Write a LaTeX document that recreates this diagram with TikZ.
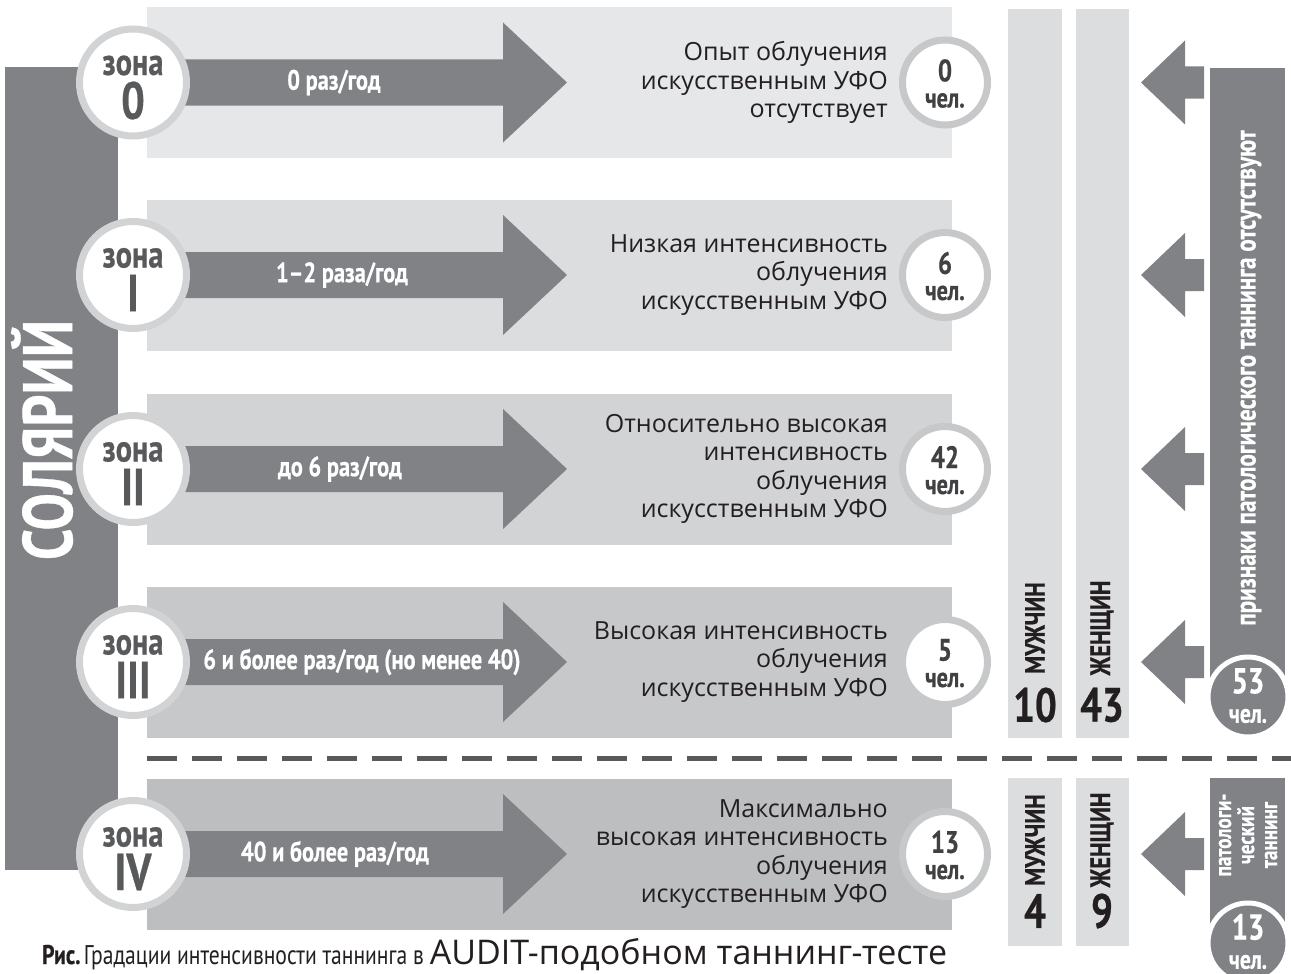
\documentclass[tikz,border=0pt]{standalone}
\usepackage{fontspec}
\setmainfont{Open Sans}
\newfontfamily\cnd[FakeStretch=0.8, BoldFeatures={FakeBold=0.5}]{PT Sans}
\definecolor{dk}{HTML}{808285}
\definecolor{pz0}{HTML}{E6E7E8}
\definecolor{pz1}{HTML}{DCDDDE}
\definecolor{pz2}{HTML}{D1D3D4}
\definecolor{pz3}{HTML}{C7C8CA}
\definecolor{pz4}{HTML}{BCBEC0}
\definecolor{ringc}{HTML}{D1D3D4}
\definecolor{ringb}{HTML}{C7C8CA}
\definecolor{zt}{HTML}{58595B}
\definecolor{ct}{HTML}{414042}
\definecolor{tx}{HTML}{231F20}
\definecolor{barc}{HTML}{DCDDDE}
\tikzset{
  zcirc/.style={circle, fill=white, draw=ringc, line width=7pt, minimum size=107pt, inner sep=0pt},
  ccirc/.style={circle, fill=white, draw=ringb, line width=7pt, minimum size=85pt, inner sep=0pt},
  dcirc/.style={circle, fill=dk, draw=white, line width=5pt, minimum size=80pt, inner sep=0pt},
  zword/.style={inner sep=0pt, text=zt, font=\cnd\bfseries\fontsize{38}{38}\selectfont},
  znum/.style={inner sep=0pt, text=zt, font=\cnd\bfseries\fontsize{52}{52}\selectfont},
  arrlbl/.style={inner sep=0pt, text=white, font=\cnd\bfseries\fontsize{28}{28}\selectfont},
  rtext/.style={inner sep=0pt, anchor=east, align=right, text=tx, font=\fontsize{25}{28.5}\selectfont},
  cnum/.style={inner sep=0pt, text=ct, font=\cnd\bfseries\fontsize{31}{31}\selectfont},
  cunit/.style={inner sep=0pt, text=ct, font=\cnd\bfseries\fontsize{28}{28}\selectfont},
  gword/.style={inner sep=0pt, rotate=90, text=tx, font=\cnd\bfseries\fontsize{28}{28}\selectfont},
  gnum/.style={inner sep=0pt, text=tx, font=\cnd\bfseries\fontsize{48}{48}\selectfont},
  wrot/.style={inner sep=0pt, rotate=90, text=white, font=\cnd\bfseries\fontsize{29}{29}\selectfont},
  wnum/.style={inner sep=0pt, text=white, font=\cnd\bfseries\fontsize{36}{36}\selectfont},
  wunit/.style={inner sep=0pt, text=white, font=\cnd\bfseries\fontsize{27}{27}\selectfont},
}
% #1 id, #2 cy, #3 panel colour, #4 numeral, #5 arrow label, #6 label x, #7 right text, #8 count
\newcommand\zonerow[8]{%
  \fill[#3] (147,#2-75.5) rectangle (952,#2+75.5);
  \fill[dk] (185,#2-23) -- (503,#2-23) -- (503,#2-60) -- (567,#2) -- (503,#2+60) -- (503,#2+23) -- (185,#2+23) -- cycle;
  \node[arrlbl] (lab#1) at (#6,#2) {#5};
  \node[zcirc] (zc#1) at (133,#2) {};
  \node[zword] (zw#1) at (133,#2-17) {зона};
  \node[znum] (zn#1) at (133,#2+18) {#4};
  \node[rtext] (rt#1) at (888,#2) {#7};
  \node[ccirc] (cc#1) at (945,#2) {};
  \node[cnum] (cn#1) at (945,#2-12) {#8};
  \node[cunit] (cu#1) at (945,#2+18) {чел.};
}
% left-pointing arrow: #1 id, #2 cy
\newcommand\leftarr[2]{%
  \fill[dk] (1204,#2-16) -- (1185,#2-16) -- (1185,#2-42) -- (1141,#2) -- (1185,#2+42) -- (1185,#2+16) -- (1204,#2+16) -- cycle;
  \coordinate (la#1) at (1141,#2);
}
\begin{document}
\begin{tikzpicture}[x=1pt,y=-1pt]
\useasboundingbox (0,0) rectangle (1291,974);
\fill[white] (0,0) rectangle (1291,974);
% left bar
\fill[dk] (5,67) rectangle (118,870);
\node[inner sep=0pt, rotate=90, text=white, font=\cnd\bfseries\fontsize{70}{70}\selectfont] (sol) at (42,440) {СОЛЯРИЙ};
% zones
\zonerow{0}{82.5}{pz0}{0}{0 раз/год}{334}{Опыт облучения\\искусственным УФО\\отсутствует}{0}
\zonerow{1}{275}{pz1}{I}{1–2 раза/год}{342}{Низкая интенсивность\\облучения\\искусственным УФО}{6}
\zonerow{2}{469}{pz2}{II}{до 6 раз/год}{340}{Относительно высокая\\интенсивность\\облучения\\искусственным УФО}{42}
\zonerow{3}{662}{pz3}{III}{6 и более раз/год (но менее 40)}{362}{Высокая интенсивность\\облучения\\искусственным УФО}{5}
\zonerow{4}{854}{pz4}{IV}{40 и более раз/год}{335}{Максимально\\высокая интенсивность\\облучения\\искусственным УФО}{13}
% dashed separator
\coordinate (dsA) at (147,758);
\coordinate (dsB) at (1291,758);
\draw[zt, line width=5pt, dash pattern=on 30pt off 15pt] (dsA) -- (dsB);
% gender bars upper
\fill[barc] (1008,9) rectangle (1062,738);
\fill[barc] (1076,9) rectangle (1129,738);
\node[gword] (m1) at (1035,628) {МУЖЧИН};
\node[gword] (w1) at (1102,628) {ЖЕНЩИН};
\node[gnum] (mn1) at (1035,705) {10};
\node[gnum] (wn1) at (1102,705) {43};
% gender bars lower
\fill[barc] (1008,778) rectangle (1062,946);
\fill[barc] (1076,778) rectangle (1129,946);
\node[gword] (m2) at (1035,840) {МУЖЧИН};
\node[gword] (w2) at (1102,840) {ЖЕНЩИН};
\node[gnum] (mn2) at (1035,911) {4};
\node[gnum] (wn2) at (1102,911) {9};
% left arrows
\leftarr{0}{82.5}
\leftarr{1}{275}
\leftarr{2}{469}
\leftarr{3}{662}
\leftarr{4}{854}
% right bars
\fill[dk] (1210,68) rectangle (1285,697);
\node[wrot] (pr1) at (1251,378) {признаки патологического таннинга отсутствуют};
\node[dcirc] (rc1) at (1248,697) {};
\node[wnum] (rn1) at (1248,681) {53};
\node[wunit] (ru1) at (1248,716) {чел.};
\fill[dk] (1210,778) rectangle (1285,943);
\node[wrot, align=center, font=\cnd\bfseries\fontsize{24}{23}\selectfont] (pr2) at (1248,835) {патологи-\\ческий\\таннинг};
\node[dcirc] (rc2) at (1248,943) {};
\node[wnum] (rn2) at (1248,927) {13};
\node[wunit] (ru2) at (1248,962) {чел.};
% caption
\node[anchor=base west, inner sep=0pt, text=tx] (cap) at (42,964) {{\cnd\bfseries\fontsize{27}{27}\selectfont Рис.} {\cnd\fontsize{27}{27}\selectfont Градации интенсивности таннинга в}\hspace{6pt}{\fontsize{34}{34}\selectfont AUDIT-подобном таннинг-тесте}};
\end{tikzpicture}
\end{document}
